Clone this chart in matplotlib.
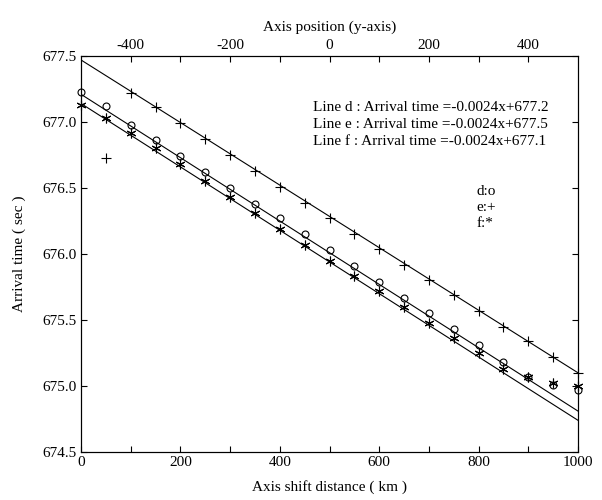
import numpy as np
import matplotlib
matplotlib.use("Agg")
import matplotlib.pyplot as plt

# shift distances (km) where arrival times were picked
dist_d = [0, 50, 100, 150, 200, 250, 300, 350, 400, 450, 500,
          550, 600, 650, 700, 750, 800, 850, 900, 950, 1000]
time_d = [677.23, 677.12, 676.98, 676.86, 676.74, 676.62, 676.50, 676.38,
          676.27, 676.15, 676.03, 675.91, 675.79, 675.67, 675.55, 675.43,
          675.31, 675.18, 675.07, 675.01, 674.97]

dist_e = [50, 100, 150, 200, 250, 300, 350, 400, 450, 500, 550,
          600, 650, 700, 750, 800, 850, 900, 950, 1000]
time_e = [676.73, 677.22, 677.11, 676.99, 676.87, 676.75, 676.63, 676.51,
          676.39, 676.27, 676.15, 676.04, 675.92, 675.80, 675.69, 675.57,
          675.45, 675.34, 675.22, 675.10]

dist_f = dist_d
time_f = [677.13, 677.03, 676.92, 676.80, 676.68, 676.55, 676.43, 676.31,
          676.19, 676.07, 675.95, 675.83, 675.72, 675.60, 675.48, 675.36,
          675.25, 675.13, 675.07, 675.02, 675.00]

# fitted lines (slope, intercept) as drawn
fit_d = (-0.0024, 677.21)
fit_e = (-0.00237, 677.47)
fit_f = (-0.0024, 677.14)

eq_labels = ["Line d : Arrival time =-0.0024x+677.2",
             "Line e : Arrival time =-0.0024x+677.5",
             "Line f : Arrival time =-0.0024x+677.1"]
sym_labels = ["d:o", "e:+", "f:*"]

plt.rcParams['font.family'] = ['Liberation Serif', 'DejaVu Serif']
plt.rcParams['font.size'] = 11
plt.rcParams['axes.unicode_minus'] = False

fig = plt.figure(figsize=(6.02, 5.0), dpi=100)
ax = fig.add_axes([81 / 602, 48 / 500, 497 / 602, 396 / 500])

xx = np.array([0, 1000])
for slope, icpt in (fit_d, fit_e, fit_f):
    ax.plot(xx, slope * xx + icpt, color='black', lw=0.8)

ax.plot(dist_d, time_d, 'o', mfc='none', mec='black', ms=5, mew=0.8, clip_on=False)
ax.plot(dist_e, time_e, '+', color='black', ms=7, mew=0.8, clip_on=False)
ax.plot(dist_f, time_f, marker=(6, 2, 0), ls='none', color='black', ms=7, mew=0.8, clip_on=False)

ax.set_xlim(0, 1000)
ax.set_ylim(674.5, 677.5)
ax.set_xticks(np.arange(0, 1001, 200))
ax.set_xticks(np.arange(0, 1001, 100), minor=True)
ax.set_yticks(np.arange(674.5, 677.51, 0.5))
ax.set_yticklabels(["%.1f" % v for v in np.arange(674.5, 677.51, 0.5)])
ax.tick_params(which='both', direction='in', top=False, right=True, labelsize=11)
ax.tick_params(which='both', length=4, width=0.8, pad=3)
for s in ax.spines.values():
    s.set_linewidth(0.8)

ax.set_xlabel("Axis shift distance ( km )", fontsize=11, labelpad=8)
ax.set_ylabel("Arrival time ( sec )", fontsize=11, labelpad=12)

top = ax.twiny()
top.set_xlim(-500, 500)
top.set_xticks(np.arange(-400, 401, 200))
top.set_xticks(np.arange(-400, 401, 100), minor=True)
top.tick_params(which='both', direction='in', length=4, width=0.8, labelsize=11, pad=3)
top.set_xlabel("Axis position (y-axis)", fontsize=11, labelpad=6)

for i, t in enumerate(eq_labels):
    ax.text(0.467, 0.869 - i * 0.043, t, transform=ax.transAxes, va='center')
for i, t in enumerate(sym_labels):
    ax.text(0.795, 0.657 - i * 0.04, t, transform=ax.transAxes, va='center')

fig.savefig("out.png", dpi=100)
